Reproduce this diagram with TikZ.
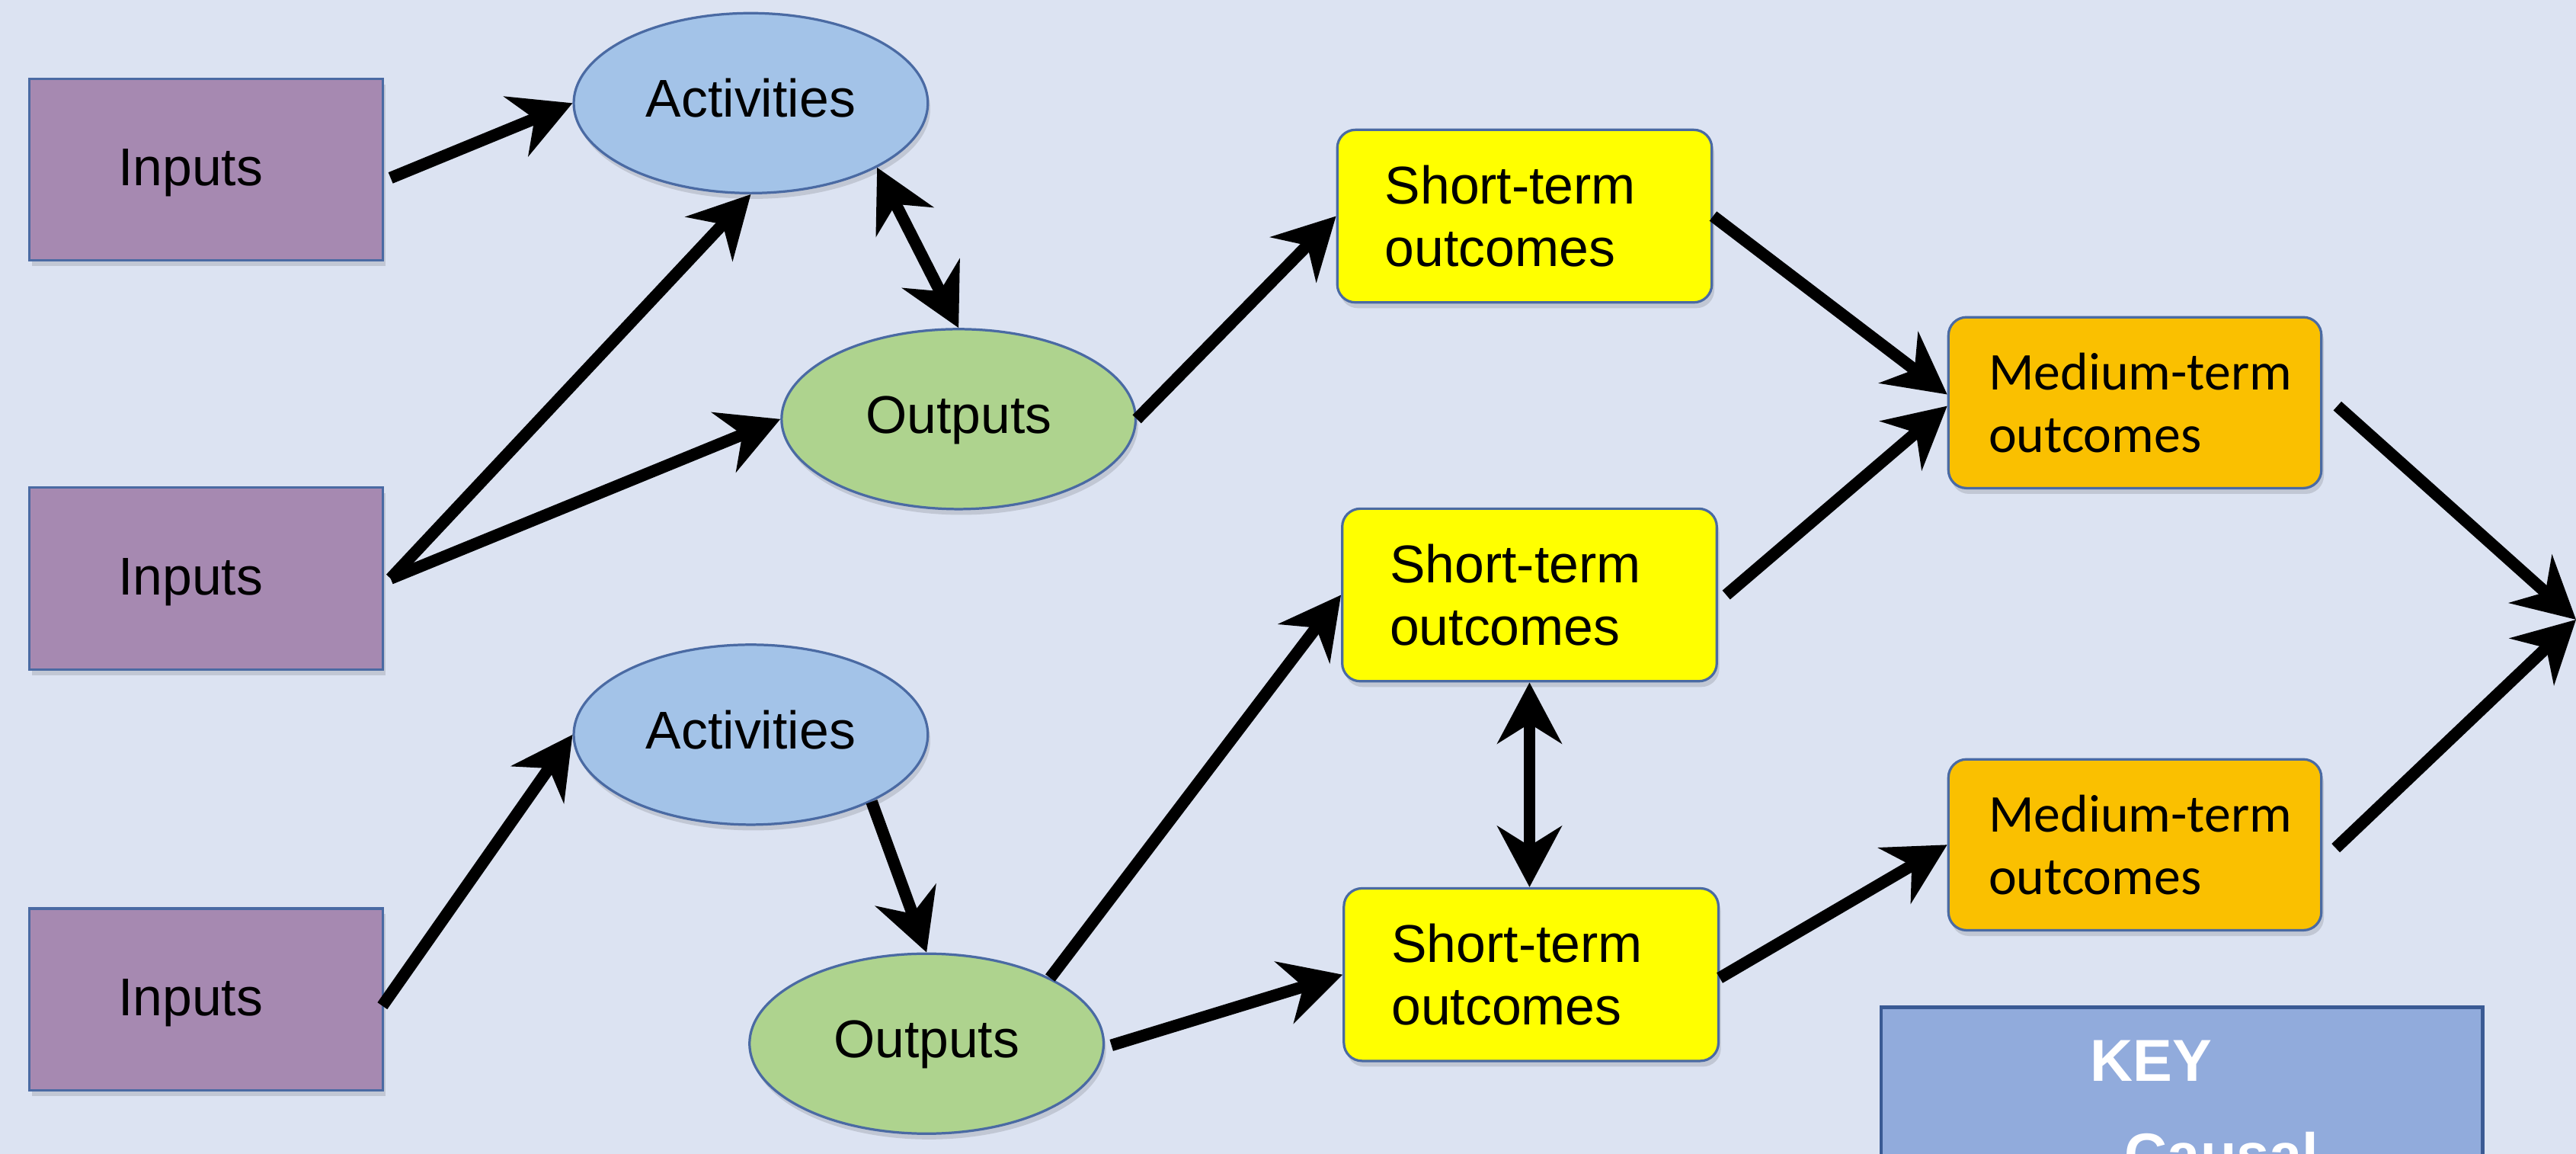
\documentclass[tikz,border=0pt]{standalone}
\usepackage{fontspec}
\setmainfont{Liberation Sans}
\newfontfamily\calibrifont{Carlito}
\usetikzlibrary{arrows.meta,shapes.geometric,calc,shadows}
\definecolor{bg}{HTML}{DCE3F2}
\definecolor{edge}{HTML}{4A6AA3}
\definecolor{inputsc}{HTML}{A689B1}
\definecolor{actc}{HTML}{A3C3E8}
\definecolor{outc}{HTML}{AED38E}
\definecolor{shortc}{HTML}{FFFF00}
\definecolor{medc}{HTML}{FAC000}
\definecolor{keyc}{HTML}{91ABDC}
\definecolor{keyedge}{HTML}{3A5A94}
\begin{document}
\begin{tikzpicture}[x=0.2mm,y=-0.2mm,
  every node/.style={font=\fontsize{18.4pt}{21.6pt}\selectfont},
  shade/.style={drop shadow={shadow xshift=0.3mm,shadow yshift=-0.7mm,opacity=0.12,fill=black}},
  inbox/.style={rectangle,draw=edge,line width=0.3mm,fill=inputsc,shade,
    minimum width=43mm,minimum height=22.1mm,inner xsep=10.8mm,inner ysep=0pt,
    text width=21.4mm,align=left,text height=13.2pt,text depth=2pt},
  actell/.style={ellipse,draw=edge,line width=0.3mm,fill=actc,shade,
    minimum width=43.1mm,minimum height=21.9mm,inner sep=0pt,
    text height=14pt,text depth=4.2pt},
  outell/.style={actell,fill=outc},
  shortbox/.style={rectangle,rounded corners=2.2mm,draw=edge,line width=0.3mm,fill=shortc,shade,
    minimum width=45.6mm,minimum height=21mm,inner xsep=5.8mm,inner ysep=0pt,
    text width=34mm,align=left},
  medbox/.style={rectangle,rounded corners=2.2mm,draw=edge,line width=0.3mm,fill=medc,shade,
    minimum width=45.4mm,minimum height=20.8mm,inner xsep=4.9mm,inner ysep=0pt,
    text width=35.6mm,align=left,font=\calibrifont\fontsize{18.4pt}{21.6pt}\selectfont},
  keytext/.style={anchor=base west,inner sep=0pt,text=white,
    font=\bfseries\fontsize{20.5pt}{24pt}\selectfont},
  conn/.style={draw=black,line width=1.45mm,-{Stealth[length=7.4mm,width=7.8mm,inset=2.4mm]}},
  dconn/.style={draw=black,line width=1.45mm,{Stealth[length=7.4mm,width=7.8mm,inset=2.4mm]}-{Stealth[length=7.4mm,width=7.8mm,inset=2.4mm]}}
]
\useasboundingbox (0,0) rectangle (1568,702);
\clip (0,0) rectangle (1568,702);
\fill[bg] (0,0) rectangle (1568,702);

% inputs
\node[inbox] (in1) at (125.5,103.25) {Inputs};
\node[inbox] (in2) at (125.5,352) {Inputs};
\node[inbox] (in3) at (125.5,608) {Inputs};

% activities and outputs
\node[actell] (act1) at (457,62.75) {Activities};
\node[outell] (out1) at (583.5,255) {Outputs};
\node[actell] (act2) at (457,447) {Activities};
\node[outell] (out2) at (564,635) {Outputs};

% short-term outcomes
\node[shortbox] (s1) at (928,131.5) {Short-term\\outcomes};
\node[shortbox] (s2) at (931,362) {Short-term\\outcomes};
\node[shortbox] (s3) at (932,593) {Short-term\\outcomes};

% medium-term outcomes
\node[medbox] (med1) at (1299.5,245) {\mbox{Medium-term}\\outcomes};
\node[medbox] (med2) at (1299.5,514) {\mbox{Medium-term}\\outcomes};

% key (cut off at the bottom edge, as in the reference)
\node[rectangle,draw=keyedge,line width=0.45mm,fill=keyc,
  minimum width=73.2mm,minimum height=40mm,inner sep=0pt] (key) at (1328,713) {};
\node[keytext] (keyt) at (1272,658) {KEY};
\node[keytext] (causal) at (1293,715) {Causal};

\coordinate (goal) at (1568,377);

% connectors
\draw[conn] ($(in1.east)+(4,5)$) -- (act1.west);
\draw[conn] ($(in2.east)+(4,0)$) -- (act1.south);
\draw[conn] ($(in2.east)+(4,0)$) -- (out1.west);
\draw[dconn] (act1.-27) -- (out1.north);
\draw[conn] (out1.east) -- (s1.west);
\draw[conn] (s1.east) -- ($(med1.west)+(0,-5)$);
\draw[conn] ($(s2.east)+(5,0)$) -- ($(med1.west)+(0,2)$);
\draw[conn] ($(med1.east)+(9,2)$) -- (goal);
\draw[conn] ($(med2.east)+(8,2)$) -- (goal);
\draw[conn] ($(in3.east)+(-1,4)$) -- (act2.west);
\draw[conn] (act2.-29) -- (out2.north);
\draw[conn] (out2.28) -- (s2.west);
\draw[conn] ($(out2.east)+(4,1)$) -- (s3.west);
\draw[dconn] (s2.south) -- (s2.south |- s3.north);
\draw[conn] ($(s3.east)+(0,2)$) -- (med2.west);
\end{tikzpicture}
\end{document}
